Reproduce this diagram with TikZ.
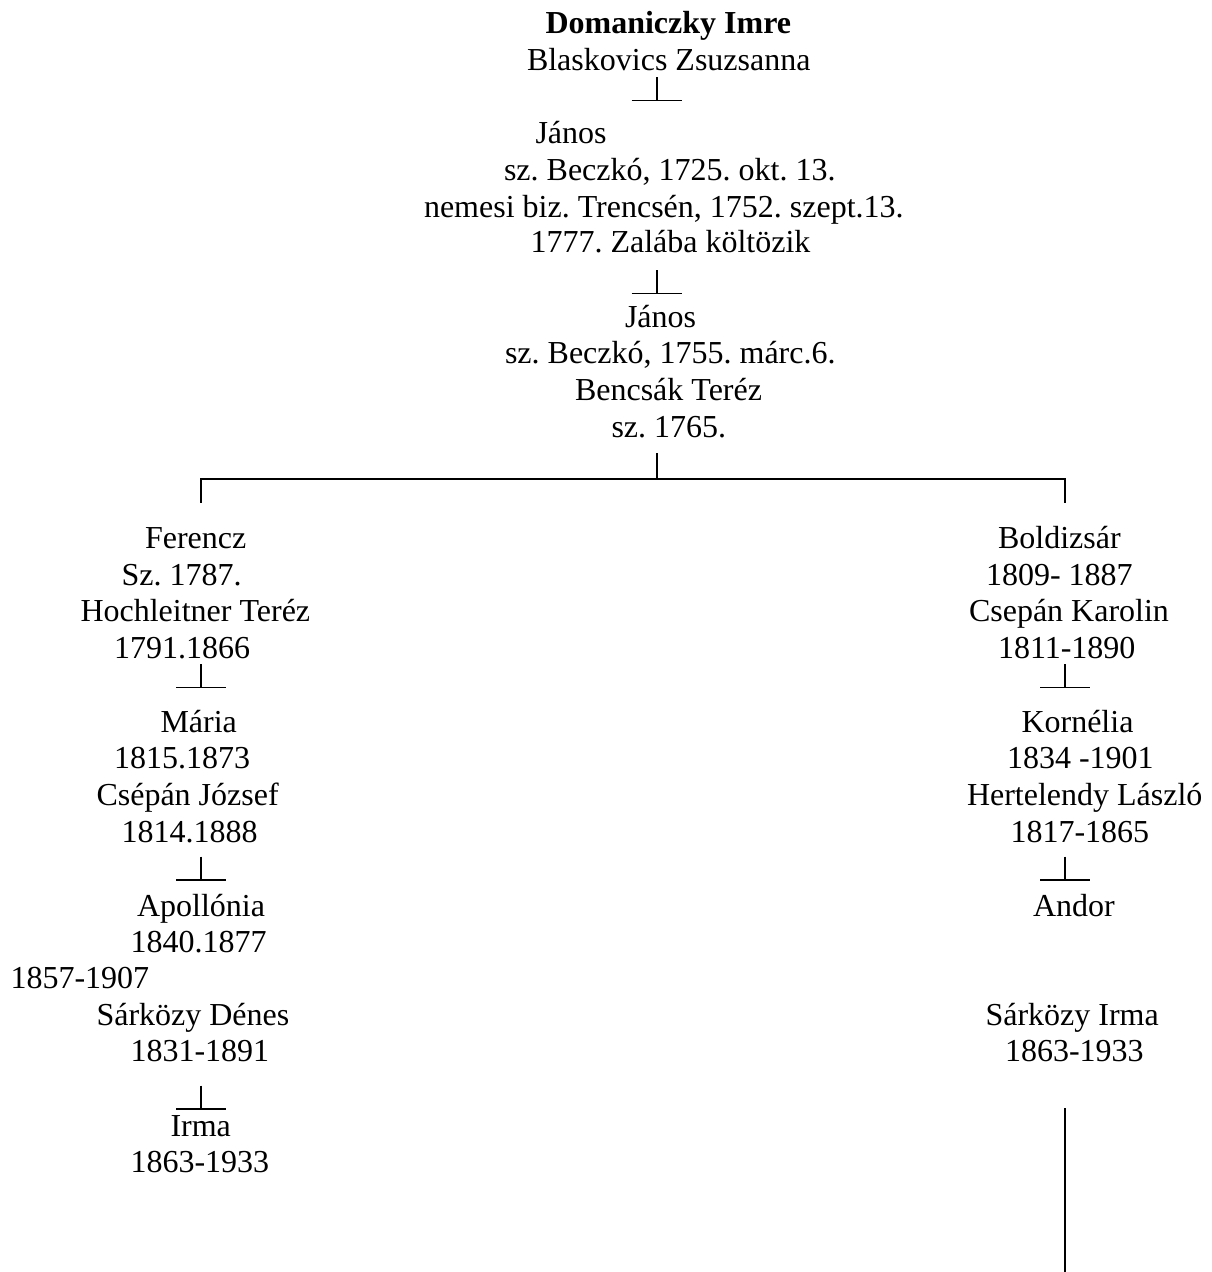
\documentclass[tikz,border=0pt]{standalone}
\usepackage{fontspec}
\setmainfont{Liberation Serif}
\frenchspacing
\begin{document}
\begin{tikzpicture}[x=1pt,y=-1pt,
  txt/.style={anchor=base west,inner sep=0pt,outer sep=0pt,
    font=\fontsize{32}{36.8}\selectfont\frenchspacing},
  link/.style={line width=1.8pt,black},
  tee/.pic={\draw[link] (0,0) -- (0,23.5) (-25,23.5) -- (25,23.5);}]
\useasboundingbox (0,0) rectangle (1212,1272);
\fill[white] (0,0) rectangle (1212,1272);
% top block
\node[txt,font=\fontsize{32}{36.8}\selectfont\bfseries] (dom) at (545.5,33) {Domaniczky Imre};
\node[txt] (bla) at (527,70) {Blaskovics Zsuzsanna};
\coordinate (t1) at (656.7,77);
\pic at (t1) {tee};
\node[txt] (jan1) at (535.5,143.3) {János};
\node[txt] (jan1a) at (504,180.5) {sz. Beczkó, 1725. okt. 13.};
\node[txt] (jan1b) at (424,217) {nemesi biz. Trencsén, 1752. szept.13.};
\node[txt] (jan1c) at (530.5,252.5) {1777. Zalába költözik};
\coordinate (t2) at (656.7,270);
\pic at (t2) {tee};
\node[txt] (jan2) at (625,327) {János};
\node[txt] (jan2a) at (505,363.8) {sz. Beczkó, 1755. márc.6.};
\node[txt] (ben) at (575,400.6) {Bencsák Teréz};
\node[txt] (bena) at (611.5,437.4) {sz. 1765.};
% branch bracket
\coordinate (br) at (656.7,453);
\coordinate (brm) at (656.7,479);
\coordinate (brl) at (201,479);
\coordinate (brr) at (1065,479);
\coordinate (brld) at (201,502.7);
\coordinate (brrd) at (1065,502.7);
\draw[link] (br) -- (brm);
\draw[link] (brld) -- (brl) -- (brr) -- (brrd);
% left branch
\node[txt] (fer) at (145,548.3) {Ferencz};
\node[txt] (fera) at (121.5,585) {Sz. 1787.};
\node[txt] (hoc) at (80.5,621.7) {Hochleitner Teréz};
\node[txt] (hoca) at (114,658.3) {1791.1866};
\coordinate (t3) at (201,664);
\pic at (t3) {tee};
\node[txt] (mar) at (160.5,732.7) {Mária};
\node[txt] (mara) at (114,768.7) {1815.1873};
\node[txt] (cse) at (96.5,805.3) {Csépán József};
\node[txt] (csea) at (121.5,842) {1814.1888};
\coordinate (t5) at (201,856.7);
\pic at (t5) {tee};
\node[txt] (apo) at (137,916) {Apollónia};
\node[txt] (apoa) at (130.5,952) {1840.1877};
\node[txt] (extra) at (10.5,988.5) {1857-1907};
\node[txt] (sar) at (96.5,1025) {Sárközy Dénes};
\node[txt] (sara) at (130.5,1061.7) {1831-1891};
\coordinate (t7) at (201,1085.5);
\pic at (t7) {tee};
\node[txt] (irm) at (170.5,1136.7) {Irma};
\node[txt] (irma) at (130.5,1172.7) {1863-1933};
% right branch
\node[txt] (bol) at (998,548.3) {Boldizsár};
\node[txt] (bola) at (986,585) {1809- 1887};
\node[txt] (kar) at (969,621.7) {Csepán Karolin};
\node[txt] (kara) at (998,658.3) {1811-1890};
\coordinate (t4) at (1065,664);
\pic at (t4) {tee};
\node[txt] (kor) at (1021.5,732.7) {Kornélia};
\node[txt] (kora) at (1007,768.7) {1834 -1901};
\node[txt] (her) at (967,805.3) {Hertelendy László};
\node[txt] (hera) at (1010.5,842) {1817-1865};
\coordinate (t6) at (1065,856.7);
\pic at (t6) {tee};
\node[txt] (and) at (1033,916.7) {Andor};
\node[txt] (sir) at (985.5,1025) {Sárközy Irma};
\node[txt] (sira) at (1005,1061.7) {1863-1933};
\coordinate (ltop) at (1065,1108.3);
\coordinate (lbot) at (1065,1272);
\draw[link] (ltop) -- (lbot);
\end{tikzpicture}
\end{document}
